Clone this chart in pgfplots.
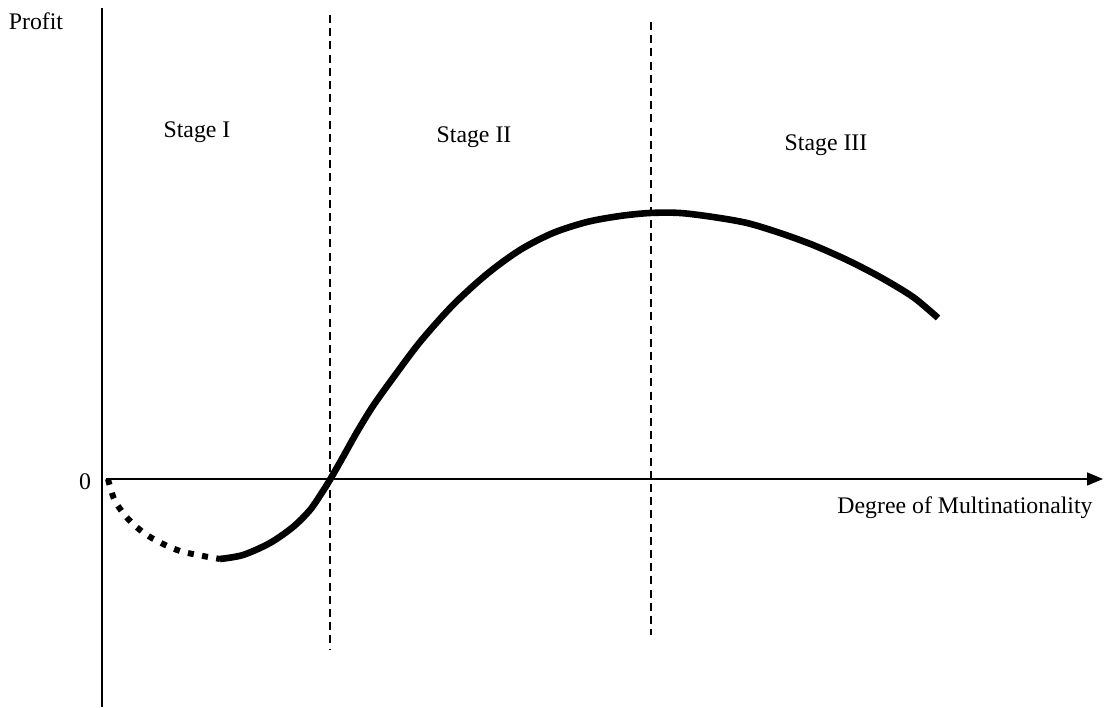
\documentclass[border=0pt]{standalone}
\usepackage{fontspec}
\setmainfont{Liberation Serif}
\usepackage{pgfplots}
\pgfplotsset{compat=1.18}
\usetikzlibrary{arrows.meta}

\begin{document}
\begin{tikzpicture}
\begin{axis}[
  scale only axis,
  width=554pt, height=353.5pt,
  xmin=0, xmax=1108,
  ymin=-228, ymax=479,
  hide axis,
  clip=false,
  font=\fontsize{11.9}{14}\selectfont,
]
\path (axis cs:0,-228) rectangle (axis cs:1108,479);

% axes
\draw[line width=0.75pt] (axis cs:102,471) -- (axis cs:102,-228);
\draw[line width=0.75pt, -{Triangle[length=8pt,width=6.5pt]}] (axis cs:106,0) -- (axis cs:1103,0);

% stage boundaries
\draw[line width=0.6pt, dash pattern=on 4pt off 2.6pt] (axis cs:330,464) -- (axis cs:330,-170);
\draw[line width=0.6pt, dash pattern=on 4pt off 2.6pt] (axis cs:651,457) -- (axis cs:651,-156);

% early internationalisation (dotted)
\addplot [line width=3pt, black, smooth, line cap=butt, dash pattern=on 3pt off 4.2pt]
coordinates {
(108,0) (115,-22) (130,-42) (150,-58) (180,-72) (220,-80)
};

% profit curve (solid)
\addplot [line width=3.3pt, black, smooth]
coordinates {
(220,-80) (243,-76) (270,-64) (293,-48) (310,-31) (323,-12) (331,1)
(343,22) (357,47) (373,73) (393,101) (420,137) (453,174) (487,205)
(520,229) (553,246) (587,257) (620,263) (650,266) (680,266) (713,262)
(747,256) (780,246) (813,234) (847,219) (880,202) (913,182) (938,161)
};

% labels
\node at (axis cs:36,458) {Profit};
\node at (axis cs:85,-3) {0};
\node at (axis cs:965,-29) {Degree of Multinationality};
\node at (axis cs:197,347) {Stage I};
\node at (axis cs:474,342) {Stage II};
\node at (axis cs:826,334) {Stage III};
\end{axis}
\end{tikzpicture}
\end{document}
